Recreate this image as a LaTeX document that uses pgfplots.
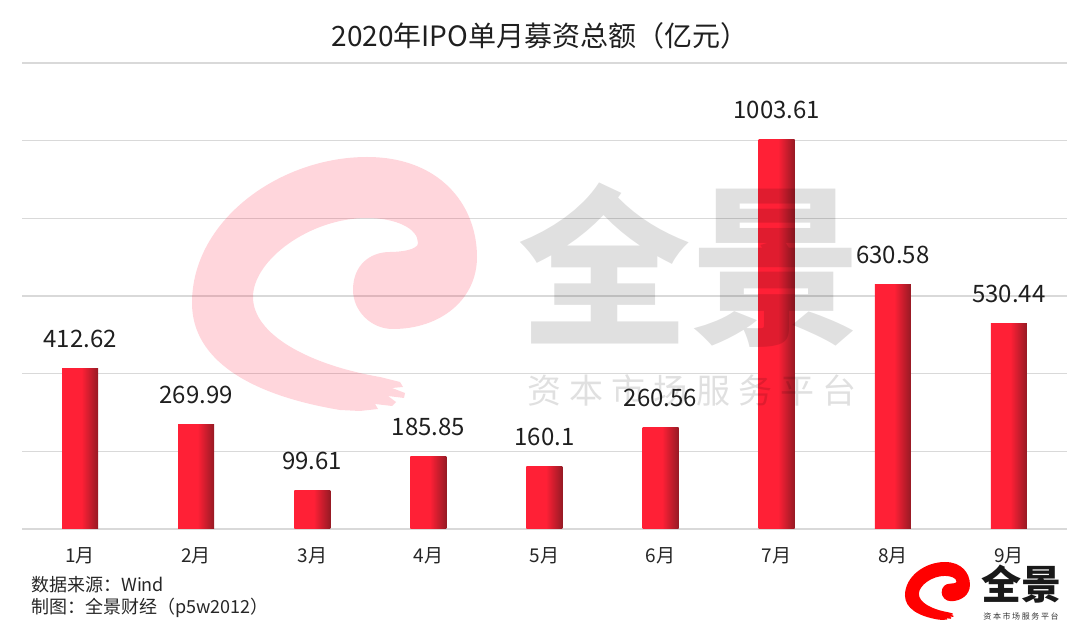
\documentclass[border=0pt]{standalone}
\usepackage{pgfplots}
\pgfplotsset{compat=1.18}
\usepackage{fontspec}
\setmainfont{Noto Sans CJK SC}
\definecolor{barred}{RGB}{255,32,54}
\definecolor{bardark}{RGB}{150,26,36}
\definecolor{gridc}{RGB}{217,217,217}
\definecolor{wmpink}{RGB}{255,0,40}
\pgfdeclarehorizontalshading{barshade}{100bp}{color(0bp)=(barred); color(25bp)=(barred); color(52bp)=(barred); color(75bp)=(bardark); color(100bp)=(bardark)}
\newcommand{\swirl}{(340,410) .. controls (250,395) and (192,360) .. (192,303)
 .. controls (192,220) and (280,157) .. (367,157)
 .. controls (440,157) and (477,205) .. (477,257)
 .. controls (477,300) and (440,329) .. (393,329)
 .. controls (370,329) and (353,310) .. (353,290)
 .. controls (353,265) and (370,252) .. (390,252)
 .. controls (400,252) and (418,250) .. (418,243)
 .. controls (418,228) and (395,218) .. (367,218)
 .. controls (310,218) and (253,260) .. (253,297)
 .. controls (253,335) and (310,365) .. (380,377)
 -- (400,382) -- (403,387) -- (392,388) -- (405,393) -- (404,398) -- (388,396) -- (396,402) -- (392,406) -- (375,404) -- (378,409) -- (360,411) -- cycle}
\pgfplotsset{onebar/.style={ybar, bar width=36pt, bar shift=0pt, draw=none, shading=barshade,
  nodes near coords,
  every node near coord/.append style={font=\fontsize{24}{28}\selectfont, anchor=base, yshift=21pt, text=black!88}}}
\begin{document}
\begin{tikzpicture}
\useasboundingbox (0,0) rectangle (1080pt,635pt);
\begin{axis}[
  at={(22pt,106pt)}, anchor=south west,
  scale only axis, width=1045pt, height=466pt,
  xmin=-0.5, xmax=8.5, ymin=0, ymax=1200,
  axis line style={draw=none},
  ytick={0,200,...,1200}, yticklabels={},
  ymajorgrids, grid style={gridc, line width=1.5pt},
  major tick length=0pt,
  xtick={0,...,8},
  xticklabels={1月,2月,3月,4月,5月,6月,7月,8月,9月},
  xticklabel style={font=\fontsize{19}{22}\selectfont, anchor=base, yshift=-34pt, text=black!85},
  point meta=explicit symbolic,
  clip=false,
]
\addplot[onebar] coordinates {(0,412.62) [412.62]};
\addplot[onebar] coordinates {(1,269.99) [269.99]};
\addplot[onebar] coordinates {(2,99.61) [99.61]};
\addplot[onebar] coordinates {(3,185.85) [185.85]};
\addplot[onebar] coordinates {(4,160.1) [160.1]};
\addplot[onebar] coordinates {(5,260.56) [260.56]};
\addplot[onebar] coordinates {(6,1003.61) [1003.61]};
\addplot[onebar] coordinates {(7,630.58) [630.58]};
\addplot[onebar] coordinates {(8,530.44) [530.44]};
\end{axis}
% watermark
\begin{scope}[x=1pt,y=-1pt,shift={(0pt,635pt)}]
\fill[wmpink, opacity=0.16] \swirl;
\node[text=black, opacity=0.12, font=\fontsize{172}{180}\selectfont\bfseries, inner sep=0pt] at (690,265) {全景};
\node[text=black, opacity=0.12, font=\fontsize{34}{40}\selectfont\addfontfeatures{LetterSpace=24}, inner sep=0pt] at (692,390) {资本市场服务平台};
\end{scope}
% logo
\begin{scope}[x=0.228pt,y=-0.228pt,shift={(905pt-43.8pt,635pt-562pt+35.8pt)}]
\fill[red] \swirl;
\end{scope}
\node[font=\fontsize{40}{44}\selectfont\bfseries, inner sep=0pt, text=black!90] at (1021pt,635pt-584pt) {全景};
\node[font=\fontsize{8}{10}\selectfont\addfontfeatures{LetterSpace=20}, inner sep=0pt, text=black!80] at (1021pt,635pt-616pt) {资本市场服务平台};
% title and notes
\node[font=\fontsize{28}{32}\selectfont, text=black!88] at (540pt,635pt-36pt) {2020年IPO单月募资总额（亿元）};
\node[font=\fontsize{18}{22}\selectfont, anchor=west, inner sep=0pt, text=black!85] at (31pt,635pt-585pt) {数据来源：Wind};
\node[font=\fontsize{18}{22}\selectfont, anchor=west, inner sep=0pt, text=black!85] at (31pt,635pt-608pt) {制图：全景财经（p5w2012）};
\end{tikzpicture}
\end{document}
